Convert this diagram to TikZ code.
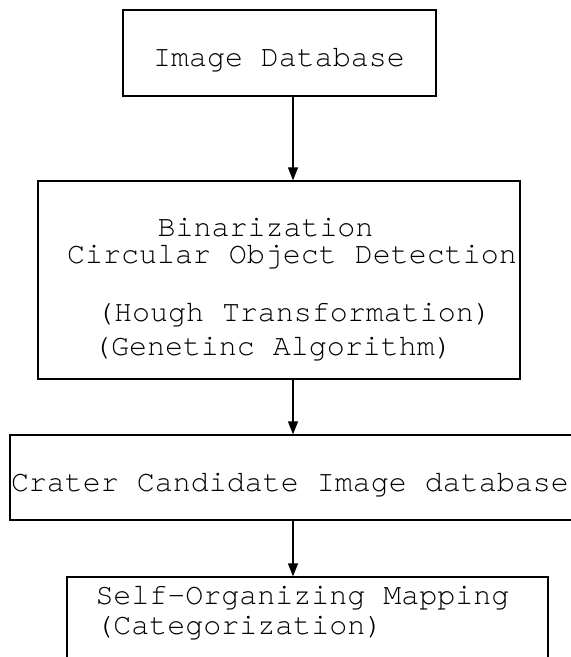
\documentclass[tikz,border=0pt]{standalone}
\usepackage{fontspec}
\usepackage{tikz}
\usetikzlibrary{arrows.meta}
\newfontfamily\flowfont{TeX Gyre Cursor}
\tikzstyle{block} = [draw=black, line width=1.2pt, rectangle, inner sep=0pt]
\tikzstyle{txt} = [inner sep=0pt, anchor=base, font=\flowfont\fontsize{30}{36}\selectfont]
\tikzstyle{flow} = [line width=1.2pt, black, -{Triangle[length=13pt,width=10pt]}]

\begin{document}
\begin{tikzpicture}[x=1pt, y=-1pt]
		\useasboundingbox (0,0) rectangle (571,657);
		\clip (0,0) rectangle (571,657);
		\node[block, minimum width=313pt, minimum height=86pt] (imgdb) at (279.5,53) {};
		\node[block, minimum width=482pt, minimum height=198pt] (detect) at (279,280) {};
		\node[block, minimum width=590pt, minimum height=85pt] (cand) at (305,477.5) {};
		\node[block, minimum width=481pt, minimum height=123pt] (som) at (307.5,638.5) {};
		\node[txt] (imgdbtxt) at (279,66) {Image Database};
		\node[txt] (binar) at (265.5,236) {Binarization};
		\node[txt] (circ) at (292,263) {Circular Object Detection};
		\node[txt] (hough) at (294,321) {(Hough Transformation)};
		\node[txt] (genet) at (273,355) {(Genetinc Algorithm)};
		\node[txt] (candtxt) at (290,491) {Crater Candidate Image database};
		\node[txt] (somtxt) at (302.5,604) {Self-Organizing Mapping};
		\node[txt] (categ) at (239.5,634) {(Categorization)};
		\coordinate (axis) at (293,0);
		\draw[flow] (imgdb.south -| axis) -- (detect.north -| axis);
		\draw[flow] (detect.south -| axis) -- (cand.north -| axis);
		\draw[flow] (cand.south -| axis) -- (som.north -| axis);
	\end{tikzpicture}
\end{document}
